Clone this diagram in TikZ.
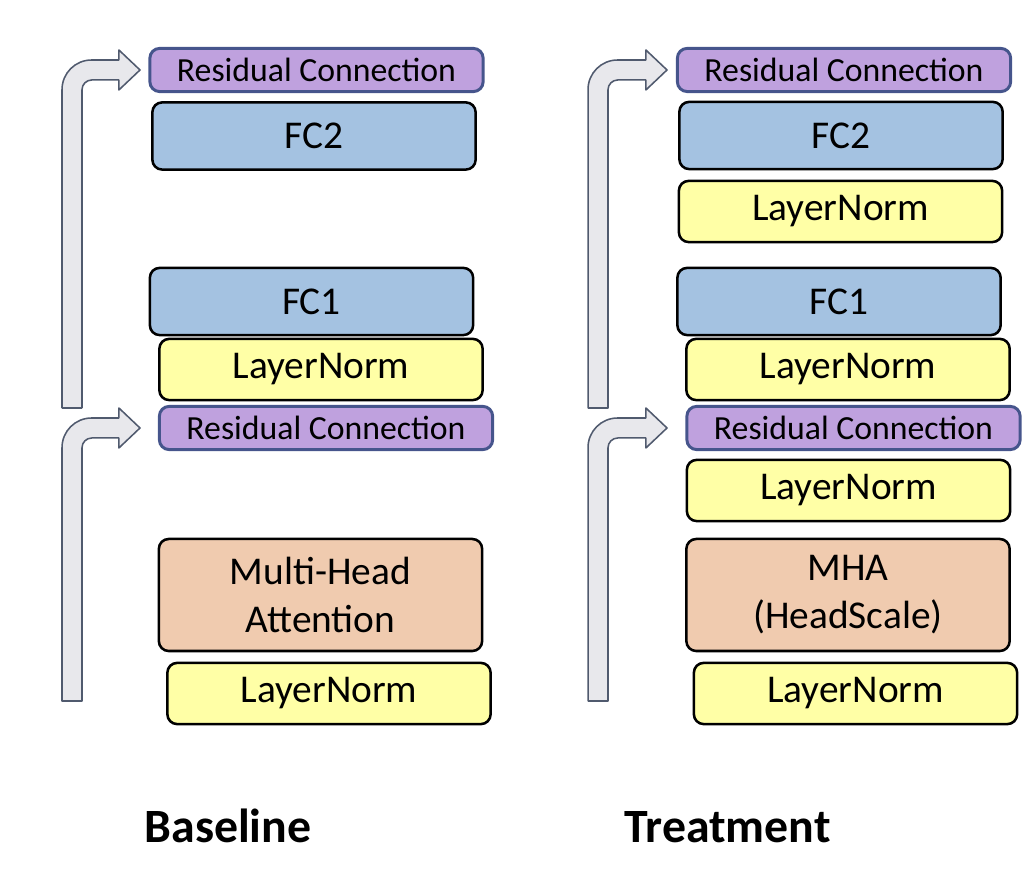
\documentclass[tikz,border=0pt]{standalone}
\usepackage{fontspec}
\setmainfont{Carlito}
\usetikzlibrary{calc}
\definecolor{resfill}{RGB}{191,161,222}
\definecolor{resline}{RGB}{70,85,140}
\definecolor{fcfill}{RGB}{164,194,225}
\definecolor{lnfill}{RGB}{255,255,166}
\definecolor{mhafill}{RGB}{240,203,175}
\definecolor{arrowfill}{RGB}{232,232,236}
\definecolor{arrowline}{RGB}{80,90,110}
\tikzset{
	blk/.style={draw=black, line width=1.8pt, rounded corners=7pt, align=center, inner sep=0pt,
		font=\fontsize{28}{34}\selectfont},
	res/.style={blk, draw=resline, line width=2.1pt, fill=resfill, minimum width=8.33cm,
		minimum height=1.08cm, font=\fontsize{24}{28}\selectfont},
	fc/.style={blk, fill=fcfill, minimum width=8.08cm, minimum height=1.68cm},
	ln/.style={blk, fill=lnfill, minimum width=8.08cm, minimum height=1.53cm},
	mha/.style={blk, fill=mhafill, minimum width=8.08cm, minimum height=2.8cm},
	title/.style={anchor=base, font=\fontsize{34}{40}\selectfont\bfseries},
	bypass/.style={fill=arrowfill, draw=arrowline, line width=1.1pt, line join=round}
}
\newcommand{\bypassarrow}[2]{%
	\draw[bypass] let \p1=(#1), \p2=(#2) in
	(\x1-7.1pt,\y1) -- (\x1-7.1pt,\y2+7.1pt-21pt) arc[start angle=180, end angle=90, radius=21pt]
	-- (\x2-15pt,\y2+7.1pt) -- (\x2-15pt,\y2+14.2pt) -- (\x2,\y2) -- (\x2-15pt,\y2-14.2pt)
	-- (\x2-15pt,\y2-7.1pt) -- (\x1+14.1pt,\y2-7.1pt) arc[start angle=90, end angle=180, radius=7pt]
	-- (\x1+7.1pt,\y1) -- cycle;}
\begin{document}
\begin{tikzpicture}[x=0.025cm, y=0.025cm]
				\useasboundingbox (0,0) rectangle (1036,878);
				\path
				coordinate (b1) at (72,177)
				coordinate (b2) at (72,470)
				coordinate (tipB) at (140,0)
				coordinate (t1) at (598,177)
				coordinate (t2) at (598,470)
				coordinate (tipT) at (667,0)
				;
				\node (lnB1) at (329,184.5) [ln] {LayerNorm};
				\node (mhaB) at (320.5,283) [mha] {Multi-Head\\Attention};
				\node (resB1) at (326,450) [res] {Residual Connection};
				\node (lnB2) at (321,508.5) [ln] {LayerNorm};
				\node (fc1B) at (311.5,576.5) [fc] {FC1};
				\node (fc2B) at (314,742) [fc] {FC2};
				\node (resB2) at (316.5,808) [res] {Residual Connection};
				\node (lnT1) at (855.5,184.5) [ln] {LayerNorm};
				\node (mhaT) at (848,283) [mha] {MHA\\(HeadScale)};
				\node (lnT1b) at (848.5,387.5) [ln] {LayerNorm};
				\node (resT1) at (853.5,450) [res] {Residual Connection};
				\node (lnT2) at (848,508.5) [ln] {LayerNorm};
				\node (fc1T) at (839,576.5) [fc] {FC1};
				\node (lnT3) at (840.5,666.5) [ln] {LayerNorm};
				\node (fc2T) at (841,742.5) [fc] {FC2};
				\node (resT2) at (844,808) [res] {Residual Connection};
				\bypassarrow{b1}{resB1.west -| tipB}
				\bypassarrow{b2}{resB2.west -| tipB}
				\bypassarrow{t1}{resT1.west -| tipT}
				\bypassarrow{t2}{resT2.west -| tipT}
				\node (base) at (228,35) [title] {Baseline};
				\node (treat) at (727.5,35) [title] {Treatment};
\end{tikzpicture}
\end{document}
